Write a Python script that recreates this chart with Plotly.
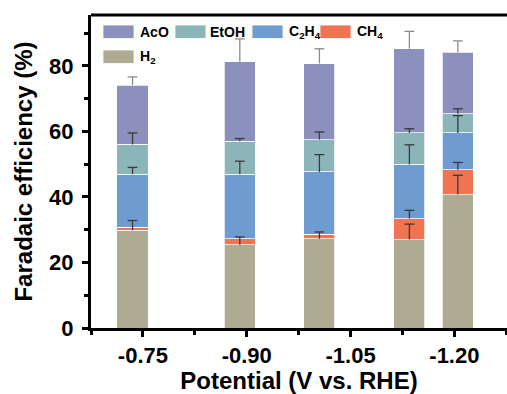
import numpy as np
import plotly.graph_objects as go

# Applied potentials (V vs. RHE) of each measurement
potential = [-0.735, -0.89, -1.005, -1.135, -1.205]

# Faradaic efficiencies (%) of each product, stacked from bottom to top
h2 = [29.8, 25.4, 27.2, 27.0, 40.7]
ch4 = [1.0, 1.8, 1.4, 6.4, 7.6]
c2h4 = [16.1, 19.7, 19.0, 16.5, 11.2]
etoh = [9.1, 10.1, 9.9, 9.6, 5.9]
aco = [18.1, 24.2, 23.2, 25.7, 18.7]

# Upper error of each product
h2_err = [3.0, 2.4, 2.1, 4.7, 5.9]
ch4_err = [0.0, 0.0, 0.0, 2.5, 2.2]
c2h4_err = [2.1, 4.0, 5.3, 6.0, 5.3]
etoh_err = [3.5, 0.8, 2.3, 1.3, 1.5]
aco_err = [2.5, 7.0, 4.5, 5.3, 3.5]

# Axis ticks
x_tickvals = [-0.75, -0.90, -1.05, -1.20]
x_ticklabels = ["-0.75", "-0.90", "-1.05", "-1.20"]
y_tickvals = [0, 20, 40, 60, 80]

series = [
    ("H<sub>2</sub>", h2, h2_err, "#ADAB91", "#3a3a3a"),
    ("CH<sub>4</sub>", ch4, ch4_err, "#F07451", "#3a3a3a"),
    ("C<sub>2</sub>H<sub>4</sub>", c2h4, c2h4_err, "#6E9BD0", "#3a3a3a"),
    ("EtOH", etoh, etoh_err, "#8CB5B9", "#3a3a3a"),
    ("AcO", aco, aco_err, "#8B90BD", "#8a8a8a"),
]

FONT = "Liberation Sans, Arial, Helvetica, sans-serif"
W, H = 507, 394
ML, MR, MT, MB = 91, 0, 15, 66

fig = go.Figure()

for name, vals, _, color, _ in series:
    fig.add_trace(go.Bar(
        x=potential, y=vals, name=name, width=0.045,
        marker=dict(color=color, line=dict(color="rgba(255,255,255,0.75)", width=1)),
        showlegend=False,
    ))

# Upper error bars sit on top of every stacked segment:
# a capless stem from the segment top, plus a short horizontal cap marker
cum = np.zeros(len(potential))
for name, vals, err, _, ecolor in series:
    cum = cum + np.array(vals)
    shown = [i for i, e in enumerate(err) if e > 0]
    xs = [potential[i] for i in shown]
    tops = [float(cum[i]) for i in shown]
    errs = [err[i] for i in shown]
    fig.add_trace(go.Scatter(
        x=xs, y=tops, mode="markers",
        marker=dict(size=1, opacity=0),
        error_y=dict(type="data", symmetric=False, array=errs,
                     arrayminus=[0] * len(errs), color=ecolor,
                     thickness=1.3, width=0),
        showlegend=False, hoverinfo="skip",
    ))
    fig.add_trace(go.Scatter(
        x=xs, y=[t + e for t, e in zip(tops, errs)], mode="markers",
        marker=dict(symbol="line-ew", size=7, line=dict(color=ecolor, width=1.3)),
        showlegend=False, hoverinfo="skip",
    ))

# Hand-drawn legend block with wide swatches
pw, ph = W - ML - MR, H - MT - MB


def px(x):
    return (x - ML) / pw


def py(y):
    return 1 - (y - MT) / ph


legend_items = [
    ("AcO", "#8B90BD", 103, 25, 138),
    ("EtOH", "#8CB5B9", 175, 25, 208),
    ("C<sub>2</sub>H<sub>4</sub>", "#6E9BD0", 252, 25, 287),
    ("CH<sub>4</sub>", "#F07451", 320, 25, 355),
    ("H<sub>2</sub>", "#ADAB91", 103, 50, 138),
]
shapes = []
annotations = []
for label, color, sx, sy, tx in legend_items:
    shapes.append(dict(type="rect", xref="paper", yref="paper",
                       x0=px(sx), x1=px(sx + 31), y0=py(sy), y1=py(sy + 13.5),
                       fillcolor=color, line=dict(color="rgba(255,255,255,0.8)", width=1)))
    annotations.append(dict(xref="paper", yref="paper", x=px(tx), y=py(sy + 7),
                            xanchor="left", yanchor="middle", showarrow=False,
                            text=label, font=dict(family=FONT, size=14, color="black", weight="bold")))

# Top frame line
shapes.append(dict(type="line", xref="paper", yref="paper", x0=0, x1=1, y0=1, y1=1,
                   line=dict(color="black", width=3)))

fig.update_layout(
    barmode="stack",
    width=W, height=H,
    margin=dict(l=ML, r=MR, t=MT, b=MB),
    plot_bgcolor="white", paper_bgcolor="white",
    shapes=shapes, annotations=annotations,
    font=dict(family=FONT, color="black"),
    xaxis=dict(
        range=[-0.675, -1.276],
        tickmode="array", tickvals=x_tickvals, ticktext=x_ticklabels,
        ticks="outside", ticklen=6, tickwidth=2.5, tickcolor="black",
        minor=dict(tick0=-0.675, dtick=0.075, ticks="outside", ticklen=4, tickwidth=2.5, tickcolor="black"),
        showline=True, linecolor="black", linewidth=3, showgrid=False, zeroline=False,
        tickfont=dict(family=FONT, size=22, weight="bold"),
        title=dict(text="Potential (V vs. RHE)", standoff=4,
                   font=dict(family=FONT, size=24, weight="bold")),
    ),
    yaxis=dict(
        range=[0, 95.5],
        tickmode="array", tickvals=y_tickvals,
        ticks="outside", ticklen=6, tickwidth=2.5, tickcolor="black",
        minor=dict(tick0=10, dtick=20, ticks="outside", ticklen=4, tickwidth=2.5, tickcolor="black"),
        showline=True, linecolor="black", linewidth=3, showgrid=False, zeroline=False,
        tickfont=dict(family=FONT, size=22, weight="bold"),
        ticklabelstandoff=4,
        title=dict(text="Faradaic efficiency (%)", standoff=10,
                   font=dict(family=FONT, size=24, weight="bold")),
    ),
)

fig.write_html("out.html")
